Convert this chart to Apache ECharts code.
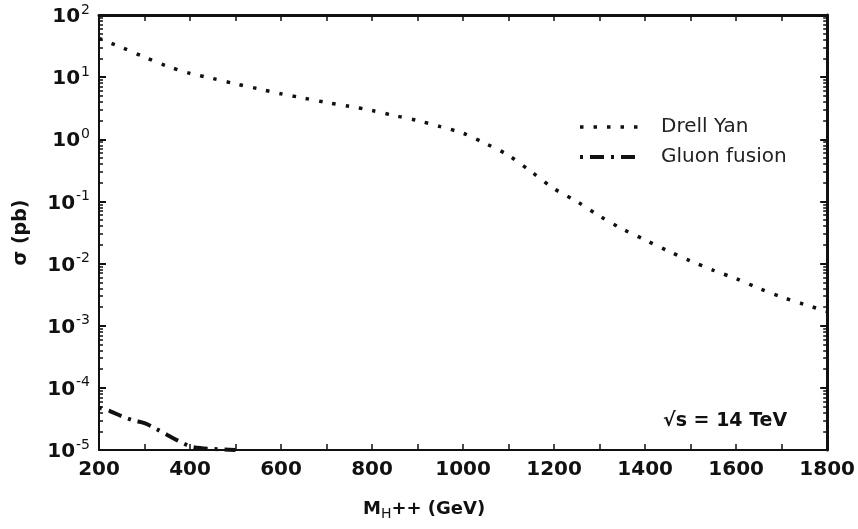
<!DOCTYPE html>
<html>
<head>
<meta charset="utf-8">
<script src="https://cdn.jsdelivr.net/npm/echarts@6/dist/echarts.min.js"></script>
<style>
  html, body { margin: 0; padding: 0; background: #ffffff; }
  #chart { width: 858px; height: 529px; }
</style>
</head>
<body>
<div id="chart"></div>
<script>
// ---- data ----
const dyMass = [200,250,300,350,400,450,500,550,600,650,700,750,800,850,900,950,1000,
                1050,1100,1150,1200,1250,1300,1350,1400,1450,1500,1550,1600,1650,1700,1750,1800];
const drellYan = [42,30,21,15,11.5,9.5,7.8,6.5,5.4,4.6,3.9,3.4,2.9,2.4,2.0,1.6,1.25,
                  0.85,0.55,0.30,0.16,0.10,0.058,0.036,0.024,0.016,0.011,0.0078,0.0057,0.0040,0.0029,0.0022,0.0017];
const gfMass = [200,225,250,275,300,325,350,375,400,425,450,475,500];
const gluonFusion = [4.8e-5,4.2e-5,3.5e-5,3.0e-5,2.7e-5,2.2e-5,1.75e-5,1.4e-5,1.15e-5,1.07e-5,1.04e-5,1.02e-5,1.0e-5];
const xTickLabels = [200,400,600,800,1000,1200,1400,1600,1800];
const seriesNames = ['Drell Yan', 'Gluon fusion'];
// minor tick positions (log10 of k*10^n, k = 2..9)
const yMinorExp = [];
for (let n = -5; n < 2; n++) { for (let k = 2; k <= 9; k++) { yMinorExp.push(Math.log10(k) + n); } }

const chart = echarts.init(document.getElementById('chart'), null, { renderer: 'canvas' });
const FONT = 'DejaVu Sans';
const AX = '#111';
const dyStyle = { color: '#111', width: 3.5, type: [3.5, 10], cap: 'butt' };
const gfStyle = { color: '#111', width: 4, type: [3, 7, 14, 7], cap: 'butt' };

function minorAxis(pos) {
  return {
    type: 'value', position: pos, min: -5, max: 2,
    axisLine: { show: false, onZero: false },
    axisLabel: { show: false },
    splitLine: { show: false },
    axisTick: { show: true, inside: true, length: 4, customValues: yMinorExp, lineStyle: { color: AX, width: 1.5 } }
  };
}

const option = {
  backgroundColor: '#ffffff',
  animation: false,
  grid: { left: 99, right: 27, top: 15, bottom: 79, containLabel: false },
  legend: {
    data: [
      { name: seriesNames[0], lineStyle: dyStyle, itemStyle: { opacity: 0 } },
      { name: seriesNames[1], lineStyle: gfStyle, itemStyle: { opacity: 0 } }
    ],
    orient: 'vertical',
    left: 573, top: 112,
    itemWidth: 62, itemHeight: 14, itemGap: 10,
    itemStyle: { opacity: 0 },
    textStyle: { fontFamily: FONT, fontSize: 20, color: '#222', lineHeight: 20, padding: [0, 0, 0, 14] }
  },
  xAxis: [
    {
      type: 'value', position: 'bottom', min: 200, max: 1800, interval: 100,
      name: 'M{sub|H}++ (GeV)', nameLocation: 'middle', nameGap: 48,
      nameTextStyle: {
        fontFamily: FONT, fontSize: 18, fontWeight: 'bold', color: '#111', padding: [0, 78, 0, 0],
        rich: { sub: { fontFamily: FONT, fontSize: 14, fontWeight: 'normal', color: '#111', padding: [9, 0, 0, 0], verticalAlign: 'bottom' } }
      },
      axisLine: { show: true, onZero: false, lineStyle: { color: AX, width: 2 } },
      axisTick: { show: true, inside: true, length: 6, lineStyle: { color: AX, width: 1.5 } },
      axisLabel: {
        show: true, margin: 10, customValues: xTickLabels,
        formatter: function (v) { return String(v); },
        fontFamily: FONT, fontSize: 20, fontWeight: 'bold', color: '#111'
      },
      splitLine: { show: false }
    },
    {
      type: 'value', position: 'top', min: 200, max: 1800, interval: 100,
      axisLine: { show: true, onZero: false, lineStyle: { color: AX, width: 3 } },
      axisTick: { show: true, inside: true, length: 6, lineStyle: { color: AX, width: 1.5 } },
      axisLabel: { show: false },
      splitLine: { show: false }
    }
  ],
  yAxis: [
    {
      type: 'log', logBase: 10, position: 'left', min: 1e-5, max: 100, interval: 1,
      name: 'σ (pb)', nameLocation: 'middle', nameGap: 68,
      nameTextStyle: { fontFamily: FONT, fontSize: 19, fontWeight: 'bold', color: '#111' },
      axisLine: { show: true, onZero: false, lineStyle: { color: AX, width: 2 } },
      axisTick: { show: true, inside: true, length: 7, lineStyle: { color: AX, width: 2 } },
      axisLabel: {
        show: true, margin: 9,
        formatter: function (v) {
          const e = Math.round(Math.log10(v));
          return '{b|10}{s|' + e + '}';
        },
        rich: {
          b: { fontFamily: FONT, fontSize: 20, fontWeight: 'bold', color: '#111', verticalAlign: 'bottom' },
          s: { fontFamily: FONT, fontSize: 14, color: '#111', padding: [0, 0, 10, 1], verticalAlign: 'bottom' }
        }
      },
      splitLine: { show: false }
    },
    {
      type: 'log', logBase: 10, position: 'right', min: 1e-5, max: 100, interval: 1,
      axisLine: { show: true, onZero: false, lineStyle: { color: AX, width: 3 } },
      axisTick: { show: true, inside: true, length: 7, lineStyle: { color: AX, width: 2 } },
      axisLabel: { show: false },
      splitLine: { show: false }
    },
    minorAxis('left'),
    minorAxis('right')
  ],
  graphic: [
    {
      type: 'text', left: 663, top: 412,
      style: { text: '√s = 14 TeV', fontFamily: FONT, fontSize: 19, fontWeight: 'bold', fill: '#111' }
    }
  ],
  series: [
    {
      name: seriesNames[0], type: 'line', xAxisIndex: 0, yAxisIndex: 0,
      data: dyMass.map((m, i) => [m, drellYan[i]]),
      symbol: 'none', smooth: 0.3,
      lineStyle: dyStyle,
      itemStyle: { color: '#111' }
    },
    {
      name: seriesNames[1], type: 'line', xAxisIndex: 0, yAxisIndex: 0,
      data: gfMass.map((m, i) => [m, gluonFusion[i]]),
      symbol: 'none', smooth: 0.3,
      lineStyle: gfStyle,
      itemStyle: { color: '#111' }
    }
  ]
};
chart.setOption(option);
</script>
</body>
</html>
